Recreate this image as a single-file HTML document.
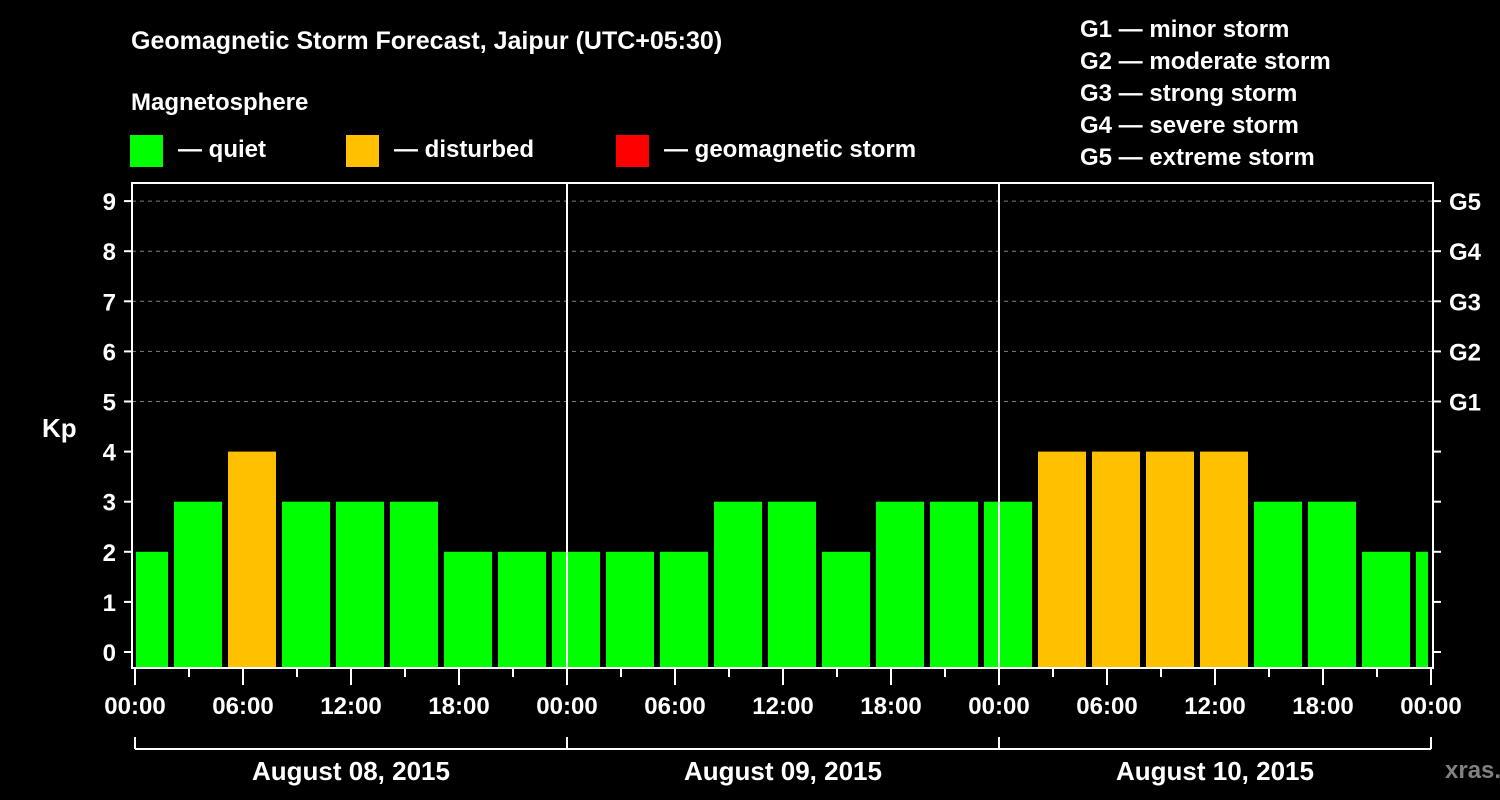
<!DOCTYPE html>
<html><head><meta charset="utf-8"><style>
html,body{margin:0;padding:0;background:#000;}
svg{display:block;font-family:"Liberation Sans",Arial,sans-serif;font-weight:bold;}
</style></head><body>
<svg id="c" width="1500" height="800" viewBox="0 0 1500 800">
<rect x="0" y="0" width="1500" height="800" fill="#000"/>
<text x="131" y="49" fill="#fff" font-size="25">Geomagnetic Storm Forecast, Jaipur (UTC+05:30)</text>
<text x="131" y="110" fill="#fff" font-size="24">Magnetosphere</text>
<g><rect x="130" y="135" width="33" height="32" fill="#00ff00"/><text x="178" y="157" fill="#fff" font-size="24">— quiet</text></g>
<g><rect x="346" y="135" width="33" height="32" fill="#ffc000"/><text x="394" y="157" fill="#fff" font-size="24">— disturbed</text></g>
<g><rect x="616" y="135" width="33" height="32" fill="#ff0000"/><text x="664" y="157" fill="#fff" font-size="24">— geomagnetic storm</text></g>
<g fill="#fff" font-size="24">
<text x="1080" y="37">G1 — minor storm</text>
<text x="1080" y="69">G2 — moderate storm</text>
<text x="1080" y="101">G3 — strong storm</text>
<text x="1080" y="133">G4 — severe storm</text>
<text x="1080" y="165">G5 — extreme storm</text>
</g>
<text x="42" y="437" fill="#fff" font-size="26">Kp</text>
<text x="1445" y="778" fill="#808080" font-size="24">xras.ru</text>
<g id="plot"></g>
</svg>
<script>
const kpValues=[2,3,4,3,3,3,2,2,2,2,2,3,3,2,3,3,3,4,4,4,4,3,3,2,2];
const yTicks=[0,1,2,3,4,5,6,7,8,9];
const gLabels=["G1","G2","G3","G4","G5"];
const gLevels=[5,6,7,8,9];
const xTickLabels=["00:00","06:00","12:00","18:00","00:00","06:00","12:00","18:00","00:00","06:00","12:00","18:00","00:00"];
const dayLabels=["August 08, 2015","August 09, 2015","August 10, 2015"];
const firstBarStartHour=-1; // local time offset of bar windows
const NS="http://www.w3.org/2000/svg";
const g=document.getElementById('plot');
const L=132,R=1433,T=183,B=668,X0=135,PXH=18;
const totalH=72;
function xs(h){return X0+h*PXH;}
function ys(v){return 652-v*50.1;}
function el(t,a,p){const e=document.createElementNS(NS,t);for(const k in a)e.setAttribute(k,a[k]);(p||g).appendChild(e);return e;}
// gridlines
gLevels.forEach(v=>{const e=el('line',{x1:L,x2:R,y1:ys(v),y2:ys(v),stroke:'#808080','stroke-width':1,'stroke-dasharray':'4,4'});

});
// bars
kpValues.forEach((v,i)=>{
 let h0=firstBarStartHour+3*i,h1=h0+3;
 let a=Math.max(h0,0),b=Math.min(h1,totalH);
 let x0=xs(a)+(h0<0?1:3),x1=xs(b)-3;
 const col=v>=5?'#ff0000':(v>=4?'#ffc000':'#00ff00');
 const r=el('rect',{x:x0,y:ys(v),width:x1-x0,height:B-ys(v),fill:col});
 
 
});
// day separators
[1,2].forEach(d=>{const e=el('line',{x1:xs(24*d),x2:xs(24*d),y1:T,y2:B,stroke:'#fff','stroke-width':2});

});
// frame
const f=el('rect',{x:L,y:T,width:R-L,height:B-T,fill:'none',stroke:'#fff','stroke-width':2});


// y ticks
yTicks.forEach(v=>{
 el('line',{x1:L-8,x2:L,y1:ys(v),y2:ys(v),stroke:'#fff','stroke-width':2});
 el('line',{x1:R,x2:R+8,y1:ys(v),y2:ys(v),stroke:'#fff','stroke-width':2});
 const t=el('text',{x:116,y:ys(v)+9,fill:'#fff','font-size':24,'text-anchor':'end'});t.textContent=v;
 
 
});
gLabels.forEach((s,i)=>{const t=el('text',{x:1449,y:ys(gLevels[i])+9,fill:'#fff','font-size':24});t.textContent=s;

});
// x ticks
for(let h=0;h<=totalH;h+=3){const major=h%6===0;el('line',{x1:xs(h),x2:xs(h),y1:B+1,y2:B+(major?17:9),stroke:'#fff','stroke-width':2});}
xTickLabels.forEach((s,i)=>{const t=el('text',{x:xs(6*i),y:714,fill:'#fff','font-size':24,'text-anchor':'middle'});t.textContent=s;

});
// day bracket
el('line',{x1:xs(0),x2:xs(totalH),y1:749,y2:749,stroke:'#fff','stroke-width':2});
[0,24,48,72].forEach(h=>el('line',{x1:xs(h),x2:xs(h),y1:737,y2:749,stroke:'#fff','stroke-width':2}));
dayLabels.forEach((s,i)=>{const t=el('text',{x:xs(24*i+12),y:780,fill:'#fff','font-size':26,'text-anchor':'middle'});t.textContent=s;

});
</script>
</body></html>
